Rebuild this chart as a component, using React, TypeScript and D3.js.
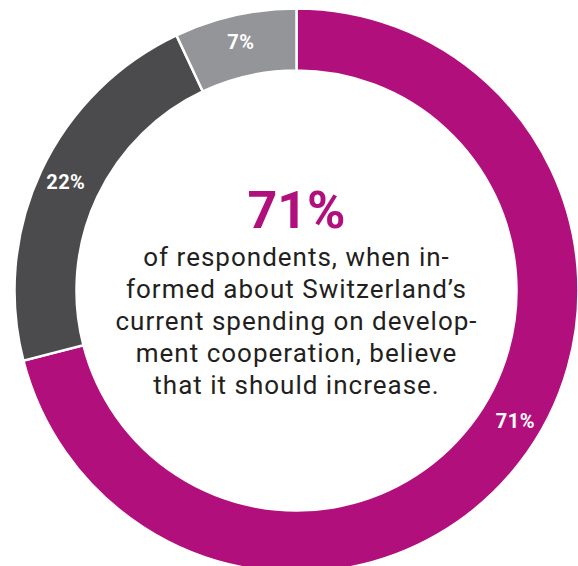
import React, { useEffect, useRef } from "react";
import * as d3 from "d3";

// slices, clockwise from 12 o'clock
const labels = ["Increase", "Keep", "Decrease"];
const values = [71, 22, 7];
const colors = ["#b1107c", "#4b4b4d", "#939598"];

const headline = "71%";
const bodyLines = [
  "of respondents, when in-",
  "formed about Switzerland’s",
  "current spending on develop-",
  "ment cooperation, believe",
  "that it should increase.",
];

export default function App() {
  const ref = useRef<SVGSVGElement | null>(null);

  useEffect(() => {
    const width = 578;
    const height = 566;
    const cx = 296.5;
    const cy = 290.5;
    const outerRadius = 282;
    const innerRadius = 220;

    const svg = d3.select(ref.current);
    svg.selectAll("*").remove();

    const g = svg.append("g").attr("transform", `translate(${cx},${cy})`);

    const pie = d3
      .pie<number>()
      .sort(null)
      .value((d) => d);
    const arcs = pie(values);

    const arc = d3
      .arc<d3.PieArcDatum<number>>()
      .innerRadius(innerRadius)
      .outerRadius(outerRadius);

    g.append("g")
      .selectAll("path")
      .data(arcs)
      .join("path")
      .attr("d", arc)
      .attr("fill", (d, i) => colors[i])
      .attr("stroke", "white")
      .attr("stroke-width", 2.5)
      .append("title")
      .text((d, i) => `${labels[i]}: ${d.data}%`);

    // slice labels; the big slice's label sits a bit before its middle
    const mid = (innerRadius + outerRadius) / 2 + 4;
    const labelAngle = (d: d3.PieArcDatum<number>, i: number) =>
      i === 0
        ? d.startAngle + (d.endAngle - d.startAngle) * 0.473
        : (d.startAngle + d.endAngle) / 2;

    g.append("g")
      .attr("font-family", "Roboto, sans-serif")
      .attr("font-weight", "bold")
      .attr("font-size", 20)
      .attr("letter-spacing", 0.5)
      .attr("fill", "white")
      .attr("text-anchor", "middle")
      .selectAll("text")
      .data(arcs)
      .join("text")
      .attr("x", (d, i) => mid * Math.sin(labelAngle(d, i)))
      .attr("y", (d, i) => -mid * Math.cos(labelAngle(d, i)))
      .attr("dy", "0.35em")
      .text((d) => `${d.data}%`);

    // centre text
    g.append("text")
      .attr("text-anchor", "middle")
      .attr("y", -63)
      .attr("font-family", "Roboto, sans-serif")
      .attr("font-weight", "bold")
      .attr("font-size", 52)
      .attr("fill", colors[0])
      .text(headline);

    g.append("g")
      .attr("font-family", "Roboto, sans-serif")
      .attr("font-size", 26)
      .attr("letter-spacing", 1)
      .attr("fill", "#231f20")
      .attr("text-anchor", "middle")
      .selectAll("text")
      .data(bodyLines)
      .join("text")
      .attr("y", (d, i) => -24.5 + i * 32)
      .text((d) => d);

    svg.attr("viewBox", `0 0 ${width} ${height}`);
  }, []);

  return (
    <svg
      ref={ref}
      width={578}
      height={566}
      style={{ position: "absolute", left: 0, top: 0, background: "white" }}
    />
  );
}
